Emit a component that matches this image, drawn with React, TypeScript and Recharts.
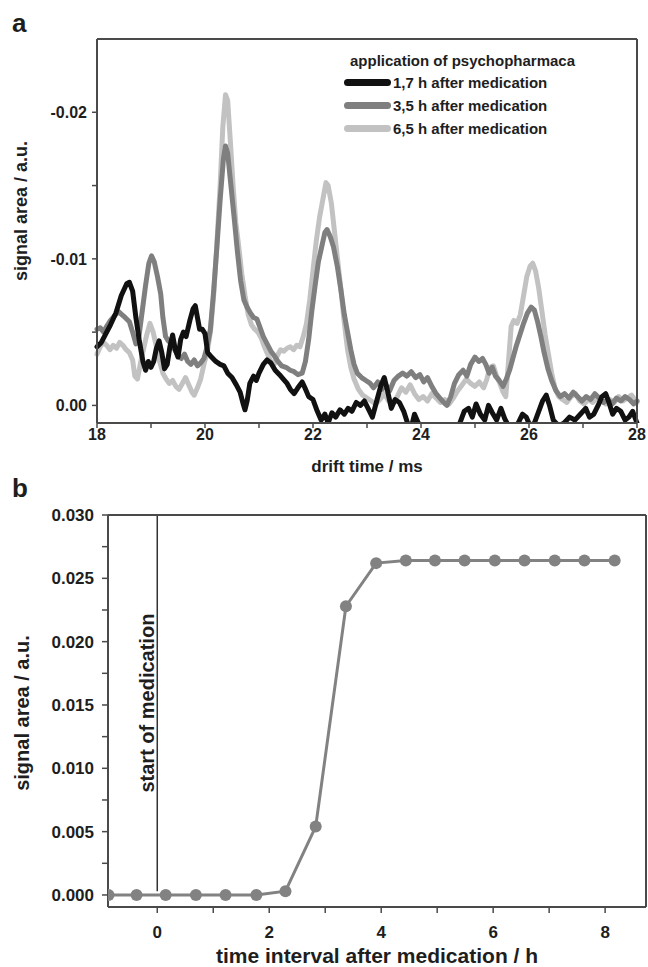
import React from 'react';
import {
  LineChart, Line, XAxis, YAxis, Legend, Label, ReferenceLine
} from 'recharts';

const FONT = '"Liberation Sans", Arial, sans-serif';

// panel a: [drift time ms, signal area a.u.]
const trace17: [number, number][] = [
  [18.00, -0.0040], [18.08, -0.0043], [18.15, -0.0048], [18.25, -0.0055], [18.35, -0.0063],
  [18.45, -0.0075], [18.55, -0.0083], [18.60, -0.0084], [18.66, -0.0078], [18.72, -0.0060],
  [18.78, -0.0045], [18.85, -0.0030], [18.90, -0.0024], [18.95, -0.0030], [19.00, -0.0026],
  [19.05, -0.0030], [19.10, -0.0039], [19.15, -0.0044], [19.20, -0.0036], [19.25, -0.0025],
  [19.30, -0.0028], [19.35, -0.0040], [19.40, -0.0048], [19.45, -0.0038], [19.50, -0.0033],
  [19.55, -0.0045], [19.60, -0.0050], [19.65, -0.0047], [19.72, -0.0058], [19.78, -0.0066],
  [19.82, -0.0068], [19.86, -0.0060], [19.90, -0.0052], [19.95, -0.0052], [20.00, -0.0049],
  [20.05, -0.0036], [20.12, -0.0033], [20.20, -0.0030], [20.28, -0.0028], [20.35, -0.0027],
  [20.42, -0.0022], [20.50, -0.0019], [20.58, -0.0014], [20.65, -0.0009], [20.70, -0.0002],
  [20.74, 0.0003], [20.78, -0.0003], [20.83, -0.0015], [20.90, -0.0020], [20.95, -0.0017],
  [21.00, -0.0022], [21.08, -0.0028], [21.15, -0.0031], [21.22, -0.0029], [21.30, -0.0024],
  [21.38, -0.0021], [21.45, -0.0018], [21.52, -0.0015], [21.58, -0.0011], [21.65, -0.0008],
  [21.72, -0.0012], [21.80, -0.0016], [21.85, -0.0012], [21.92, -0.0006], [22.00, -0.0004],
  [22.08, 0.0004], [22.15, 0.0010], [22.22, 0.0006], [22.28, 0.0012], [22.35, 0.0005],
  [22.42, 0.0008], [22.50, 0.0003], [22.58, 0.0006], [22.65, 0.0002], [22.72, 0.0004],
  [22.80, -0.0002], [22.88, 0.0000], [22.95, -0.0003], [23.02, 0.0002], [23.10, 0.0008],
  [23.18, -0.0003], [23.26, -0.0014], [23.32, -0.0019], [23.38, -0.0010], [23.45, 0.0002],
  [23.52, -0.0004], [23.60, -0.0002], [23.68, 0.0004], [23.75, 0.0012], [23.82, 0.0015],
  [23.88, 0.0006], [23.95, 0.0012], [24.05, 0.0016], [24.40, 0.0016], [24.70, 0.0014],
  [24.80, 0.0004], [24.88, 0.0002], [24.95, 0.0008], [25.02, -0.0001], [25.10, 0.0006],
  [25.18, 0.0010], [25.25, 0.0000], [25.32, 0.0005], [25.40, 0.0010], [25.48, 0.0002],
  [25.55, 0.0009], [25.62, 0.0014], [25.70, 0.0016], [25.80, 0.0012], [25.88, 0.0006],
  [25.95, 0.0008], [26.02, 0.0014], [26.10, 0.0012], [26.18, 0.0004], [26.25, -0.0003],
  [26.32, -0.0007], [26.38, 0.0000], [26.45, 0.0010], [26.55, 0.0014], [26.65, 0.0012],
  [26.75, 0.0008], [26.85, 0.0010], [26.95, 0.0006], [27.05, 0.0002], [27.12, 0.0008],
  [27.20, 0.0006], [27.28, 0.0000], [27.35, -0.0006], [27.42, -0.0008], [27.48, -0.0002],
  [27.55, 0.0006], [27.62, 0.0002], [27.70, 0.0004], [27.78, 0.0010], [27.85, 0.0008],
  [27.92, 0.0004], [28.00, 0.0012],
];

const trace35: [number, number][] = [
  [18.00, -0.0052], [18.06, -0.0053], [18.12, -0.0050], [18.18, -0.0054], [18.25, -0.0058],
  [18.32, -0.0061], [18.40, -0.0064], [18.46, -0.0062], [18.52, -0.0060], [18.60, -0.0057],
  [18.66, -0.0050], [18.72, -0.0042], [18.78, -0.0048], [18.84, -0.0065], [18.90, -0.0082],
  [18.96, -0.0097], [19.01, -0.0102], [19.06, -0.0098], [19.12, -0.0088], [19.18, -0.0076],
  [19.22, -0.0060], [19.27, -0.0047], [19.32, -0.0044], [19.38, -0.0042], [19.44, -0.0038],
  [19.50, -0.0034], [19.56, -0.0032], [19.62, -0.0035], [19.68, -0.0030], [19.74, -0.0028],
  [19.80, -0.0031], [19.86, -0.0027], [19.92, -0.0029], [19.98, -0.0032], [20.04, -0.0040],
  [20.10, -0.0052], [20.16, -0.0078], [20.22, -0.0108], [20.28, -0.0140], [20.34, -0.0168],
  [20.38, -0.0177], [20.42, -0.0172], [20.48, -0.0150], [20.54, -0.0128], [20.60, -0.0105],
  [20.66, -0.0085], [20.72, -0.0072], [20.78, -0.0067], [20.84, -0.0063], [20.90, -0.0060],
  [20.96, -0.0059], [21.02, -0.0053], [21.08, -0.0047], [21.15, -0.0042], [21.22, -0.0037],
  [21.28, -0.0034], [21.35, -0.0030], [21.42, -0.0027], [21.50, -0.0026], [21.58, -0.0024],
  [21.65, -0.0023], [21.72, -0.0021], [21.80, -0.0022], [21.86, -0.0030], [21.92, -0.0045],
  [21.98, -0.0065], [22.04, -0.0082], [22.10, -0.0098], [22.16, -0.0108], [22.22, -0.0118],
  [22.26, -0.0120], [22.32, -0.0115], [22.38, -0.0108], [22.45, -0.0095], [22.52, -0.0078],
  [22.58, -0.0062], [22.64, -0.0050], [22.70, -0.0038], [22.76, -0.0028], [22.82, -0.0022],
  [22.90, -0.0019], [22.98, -0.0017], [23.06, -0.0015], [23.12, -0.0012], [23.20, -0.0016],
  [23.28, -0.0011], [23.35, -0.0014], [23.42, -0.0010], [23.50, -0.0017], [23.58, -0.0020],
  [23.66, -0.0022], [23.74, -0.0020], [23.82, -0.0023], [23.90, -0.0019], [23.98, -0.0021],
  [24.05, -0.0016], [24.12, -0.0019], [24.20, -0.0013], [24.28, -0.0008], [24.35, -0.0005],
  [24.42, -0.0002], [24.48, 0.0000], [24.55, -0.0006], [24.62, -0.0015], [24.70, -0.0021],
  [24.78, -0.0024], [24.85, -0.0020], [24.92, -0.0028], [25.00, -0.0033], [25.07, -0.0030],
  [25.14, -0.0032], [25.20, -0.0028], [25.26, -0.0022], [25.32, -0.0026], [25.38, -0.0020],
  [25.45, -0.0017], [25.52, -0.0013], [25.58, -0.0018], [25.64, -0.0024], [25.70, -0.0032],
  [25.76, -0.0040], [25.83, -0.0048], [25.90, -0.0056], [25.97, -0.0063], [26.04, -0.0067],
  [26.10, -0.0065], [26.16, -0.0057], [26.22, -0.0047], [26.28, -0.0036], [26.35, -0.0025],
  [26.42, -0.0017], [26.50, -0.0010], [26.58, -0.0006], [26.66, -0.0008], [26.74, -0.0005],
  [26.82, -0.0009], [26.90, -0.0006], [26.98, -0.0003], [27.06, -0.0006], [27.14, -0.0004],
  [27.22, -0.0008], [27.30, -0.0005], [27.38, -0.0002], [27.46, -0.0004], [27.54, -0.0001],
  [27.62, -0.0005], [27.70, -0.0003], [27.78, -0.0006], [27.86, -0.0004], [27.94, -0.0001],
  [28.00, -0.0003],
];

const trace65: [number, number][] = [
  [18.00, -0.0035], [18.06, -0.0040], [18.12, -0.0043], [18.18, -0.0041], [18.24, -0.0038],
  [18.30, -0.0041], [18.36, -0.0039], [18.42, -0.0043], [18.48, -0.0041], [18.54, -0.0038],
  [18.60, -0.0036], [18.66, -0.0031], [18.70, -0.0020], [18.75, -0.0018], [18.80, -0.0028],
  [18.86, -0.0038], [18.92, -0.0048], [18.98, -0.0056], [19.04, -0.0050], [19.10, -0.0040],
  [19.16, -0.0030], [19.22, -0.0022], [19.28, -0.0018], [19.34, -0.0015], [19.40, -0.0017],
  [19.46, -0.0013], [19.52, -0.0011], [19.58, -0.0015], [19.64, -0.0019], [19.70, -0.0014],
  [19.76, -0.0009], [19.80, -0.0007], [19.86, -0.0012], [19.92, -0.0018], [19.98, -0.0028],
  [20.04, -0.0036], [20.10, -0.0050], [20.16, -0.0075], [20.22, -0.0110], [20.28, -0.0150],
  [20.33, -0.0190], [20.38, -0.0212], [20.42, -0.0208], [20.47, -0.0180], [20.52, -0.0150],
  [20.57, -0.0125], [20.62, -0.0110], [20.68, -0.0090], [20.74, -0.0075], [20.80, -0.0062],
  [20.86, -0.0055], [20.92, -0.0052], [20.98, -0.0050], [21.04, -0.0046], [21.10, -0.0040],
  [21.16, -0.0035], [21.22, -0.0030], [21.28, -0.0028], [21.34, -0.0034], [21.40, -0.0038],
  [21.46, -0.0037], [21.52, -0.0039], [21.58, -0.0040], [21.64, -0.0038], [21.70, -0.0041],
  [21.76, -0.0040], [21.82, -0.0047], [21.88, -0.0056], [21.94, -0.0072], [22.00, -0.0092],
  [22.06, -0.0112], [22.12, -0.0128], [22.18, -0.0140], [22.24, -0.0152], [22.28, -0.0150],
  [22.34, -0.0138], [22.40, -0.0118], [22.46, -0.0098], [22.52, -0.0078], [22.58, -0.0056],
  [22.64, -0.0038], [22.70, -0.0026], [22.76, -0.0018], [22.84, -0.0011], [22.92, -0.0007],
  [23.00, -0.0005], [23.08, -0.0003], [23.16, -0.0001], [23.24, -0.0004], [23.32, -0.0008],
  [23.40, -0.0003], [23.48, -0.0001], [23.56, -0.0006], [23.64, -0.0012], [23.72, -0.0009],
  [23.80, -0.0014], [23.88, -0.0008], [23.96, -0.0004], [24.04, -0.0006], [24.12, -0.0003],
  [24.20, -0.0008], [24.28, -0.0005], [24.36, -0.0002], [24.44, -0.0004], [24.52, -0.0001],
  [24.60, -0.0005], [24.68, -0.0010], [24.76, -0.0014], [24.84, -0.0018], [24.92, -0.0015],
  [25.00, -0.0013], [25.08, -0.0016], [25.16, -0.0012], [25.22, -0.0018], [25.28, -0.0026],
  [25.34, -0.0027], [25.40, -0.0020], [25.46, -0.0015], [25.52, -0.0009], [25.57, -0.0006],
  [25.62, -0.0030], [25.67, -0.0054], [25.72, -0.0058], [25.78, -0.0056], [25.84, -0.0062],
  [25.90, -0.0075], [25.96, -0.0088], [26.02, -0.0095], [26.07, -0.0097], [26.12, -0.0092],
  [26.18, -0.0080], [26.24, -0.0064], [26.30, -0.0048], [26.36, -0.0035], [26.42, -0.0022],
  [26.48, -0.0012], [26.55, -0.0006], [26.62, -0.0004], [26.70, -0.0002], [26.78, -0.0006],
  [26.86, -0.0008], [26.94, -0.0003], [27.02, -0.0001], [27.10, -0.0004], [27.18, -0.0002],
  [27.26, -0.0005], [27.34, -0.0003], [27.42, -0.0001], [27.50, -0.0004], [27.58, -0.0002],
  [27.66, -0.0006], [27.74, -0.0003], [27.82, -0.0005], [27.90, -0.0007], [28.00, -0.0002],
];

const legendTitle = 'application of psychopharmaca';
const traceNames = ['1,7 h after medication', '3,5 h after medication', '6,5 h after medication'];
const traceColors = ['#111111', '#7f7f7f', '#c2c2c2'];

const driftTicks = [18, 19, 20, 21, 22, 23, 24, 25, 26, 27, 28];
const signalTicksA = [-0.02, -0.015, -0.01, -0.005, 0];
const signalLabelsA = [-0.02, -0.01, 0];

// panel b: signal area vs hours after medication
const intervalHours = [
  -0.87, -0.37, 0.15, 0.69, 1.22, 1.77, 2.29, 2.83, 3.37,
  3.91, 4.44, 4.96, 5.49, 6.03, 6.56, 7.10, 7.63, 8.17,
];
const intervalSignal = [
  0.0000, 0.0000, 0.0000, 0.0000, 0.0000, 0.0000, 0.0003, 0.0054, 0.0228,
  0.0262, 0.0264, 0.0264, 0.0264, 0.0264, 0.0264, 0.0264, 0.0264, 0.0264,
];
const hourTicks = [0, 1, 2, 3, 4, 5, 6, 7, 8];
const signalTicksB = [
  0, 0.0025, 0.005, 0.0075, 0.01, 0.0125, 0.015, 0.0175, 0.02, 0.0225, 0.025, 0.0275, 0.03,
];
const signalLabelsB = [0, 0.005, 0.01, 0.015, 0.02, 0.025, 0.03];
const medicationStart = 0;

const toRows = (pts: [number, number][]) => pts.map(([t, v]) => ({ t, v }));

const axisColor = '#4a4a4a';
const textColor = '#1e1e1e';
const tickStyle = (size: number) => ({
  fontSize: size, fontWeight: 700, fill: textColor, fontFamily: FONT,
});

const xTitle = (text: string, gap: number, size: number) => (props: any) => {
  const vb = props.viewBox;
  return <text x={vb.x + vb.width / 2} y={vb.y + gap} textAnchor="middle"
    dominantBaseline="central" fill={textColor}
    style={{ fontSize: size, fontWeight: 700, fontFamily: FONT }}>{text}</text>;
};

const yTitle = (text: string, cx: number, dy: number, size: number) => (props: any) => {
  const vb = props.viewBox;
  const x = vb.x + cx;
  const y = vb.y + vb.height / 2 + dy;
  return <text x={x} y={y} transform={`rotate(-90 ${x} ${y})`} textAnchor="middle"
    dominantBaseline="central" fill={textColor}
    style={{ fontSize: size, fontWeight: 700, fontFamily: FONT }}>{text}</text>;
};

const startLabel = (props: any) => {
  const vb = props.viewBox;
  const x = vb.x - 3;
  const y = vb.y + vb.height / 2;
  return <text x={x} y={y} transform={`rotate(-90 ${x} ${y})`} textAnchor="middle"
    fill={textColor} style={{ fontSize: 20, fontWeight: 700, fontFamily: FONT }}>
    start of medication
  </text>;
};

const renderLegend = () => (
  <div style={{ fontFamily: FONT, fontWeight: 700, fontSize: 15, color: textColor }}>
    <div style={{ height: 21, lineHeight: '21px', paddingLeft: 6 }}>{legendTitle}</div>
    {traceNames.map((name, i) => (
      <div key={name} style={{ display: 'flex', alignItems: 'center', height: 23 }}>
        <span style={{
          display: 'inline-block', width: 47, height: 7, borderRadius: 4,
          background: traceColors[i], marginRight: 2,
        }} />
        <span>{name}</span>
      </div>
    ))}
  </div>
);

const panelLetter = (letter: string, top: number) => (
  <div style={{
    position: 'absolute', left: 12, top, fontFamily: FONT, fontWeight: 700,
    fontSize: 26, lineHeight: '26px', color: textColor,
  }}>{letter}</div>
);

const App = () => {
  const traces = [trace17, trace35, trace65];
  // draw light traces first so the dark ones sit on top
  const lines = [2, 1, 0].map((i) => <Line
    key={traceNames[i]}
    data={toRows(traces[i])}
    dataKey="v"
    name={traceNames[i]}
    stroke={traceColors[i]}
    strokeWidth={5}
    strokeLinejoin="round"
    strokeLinecap="round"
    dot={false}
    isAnimationActive={false}
  />);

  const rowsB = intervalHours.map((h, i) => ({ h, s: intervalSignal[i] }));

  return <div style={{
    position: 'absolute', left: 0, top: 0, width: 648, height: 967, background: '#fff',
  }}>
    {panelLetter('a', 10)}
    {panelLetter('b', 475)}

    <div style={{ position: 'absolute', left: 0, top: 0 }}>
      <LineChart width={648} height={480}
        margin={{ top: 39, right: 11, left: 0, bottom: 0 }}>
        <XAxis dataKey="t" type="number" domain={[18, 28]} ticks={driftTicks}
          allowDuplicatedCategory={false} height={57}
          tickFormatter={(v: number) => (v % 2 === 0 ? String(v) : '')}
          tick={tickStyle(16)} tickSize={5} tickMargin={1}
          axisLine={{ stroke: axisColor, strokeWidth: 2 }}
          tickLine={{ stroke: axisColor, strokeWidth: 1.5 }}>
          <Label content={xTitle('drift time / ms', 43, 17)} />
        </XAxis>
        <XAxis xAxisId="frameTop" orientation="top" type="number" domain={[18, 28]}
          mirror tick={false} tickLine={false}
          axisLine={{ stroke: axisColor, strokeWidth: 2 }} />
        <YAxis type="number" domain={[-0.025, 0.0012]} allowDataOverflow reversed
          ticks={signalTicksA} width={97}
          tickFormatter={(v: number) => (signalLabelsA.includes(v) ? v.toFixed(2) : '')}
          tick={tickStyle(16)} tickSize={5} tickMargin={5}
          axisLine={{ stroke: axisColor, strokeWidth: 2 }}
          tickLine={{ stroke: axisColor, strokeWidth: 1.5 }}>
          <Label content={yTitle('signal area / a.u.', 21, -20, 18)} />
        </YAxis>
        <YAxis yAxisId="frameRight" orientation="right" type="number"
          domain={[-0.025, 0.0012]} mirror tick={false} tickLine={false}
          axisLine={{ stroke: axisColor, strokeWidth: 2 }} />
        <Legend content={renderLegend} layout="vertical" align="center" verticalAlign="middle"
          wrapperStyle={{ position: 'absolute', top: 50, left: 344, width: 295 }} />
        {lines}
      </LineChart>
    </div>

    <div style={{ position: 'absolute', left: 0, top: 480 }}>
      <LineChart width={648} height={487} data={rowsB}
        margin={{ top: 35, right: 2, left: 0, bottom: 0 }}>
        <XAxis dataKey="h" type="number" domain={[-0.88, 8.73]} allowDataOverflow
          ticks={hourTicks} height={60}
          tickFormatter={(v: number) => (v % 2 === 0 ? String(v) : '')}
          tick={tickStyle(17)} tickSize={6} tickMargin={13}
          axisLine={{ stroke: axisColor, strokeWidth: 2 }}
          tickLine={{ stroke: axisColor, strokeWidth: 1.5 }}>
          <Label content={xTitle('time interval after medication / h', 48, 21)} />
        </XAxis>
        <XAxis xAxisId="frameTop" orientation="top" type="number" domain={[-0.88, 8.73]}
          allowDataOverflow ticks={hourTicks} mirror tick={false} tickSize={5}
          axisLine={{ stroke: axisColor, strokeWidth: 2 }}
          tickLine={{ stroke: axisColor, strokeWidth: 1.5 }} />
        <YAxis type="number" domain={[-0.00095, 0.03]} allowDataOverflow
          ticks={signalTicksB} width={108}
          tickFormatter={(v: number) => (signalLabelsB.includes(v) ? v.toFixed(3) : '')}
          tick={tickStyle(17)} tickSize={6} tickMargin={8}
          axisLine={{ stroke: axisColor, strokeWidth: 2 }}
          tickLine={{ stroke: axisColor, strokeWidth: 1.5 }}>
          <Label content={yTitle('signal area / a.u.', 22, 2, 20)} />
        </YAxis>
        <YAxis yAxisId="frameRight" orientation="right" type="number"
          domain={[-0.00095, 0.03]} allowDataOverflow ticks={signalTicksB}
          mirror tick={false} tickSize={5}
          axisLine={{ stroke: axisColor, strokeWidth: 2 }}
          tickLine={{ stroke: axisColor, strokeWidth: 1.5 }} />
        <ReferenceLine
          segment={[{ x: medicationStart, y: 0.0003 }, { x: medicationStart, y: 0.03 }]}
          stroke="#333" strokeWidth={1.5} label={startLabel} />
        <Line dataKey="s" stroke="#828282" strokeWidth={3}
          dot={{ r: 6, fill: '#828282', stroke: '#828282', strokeWidth: 0 }}
          isAnimationActive={false} />
      </LineChart>
    </div>
  </div>;
};

export default App;
